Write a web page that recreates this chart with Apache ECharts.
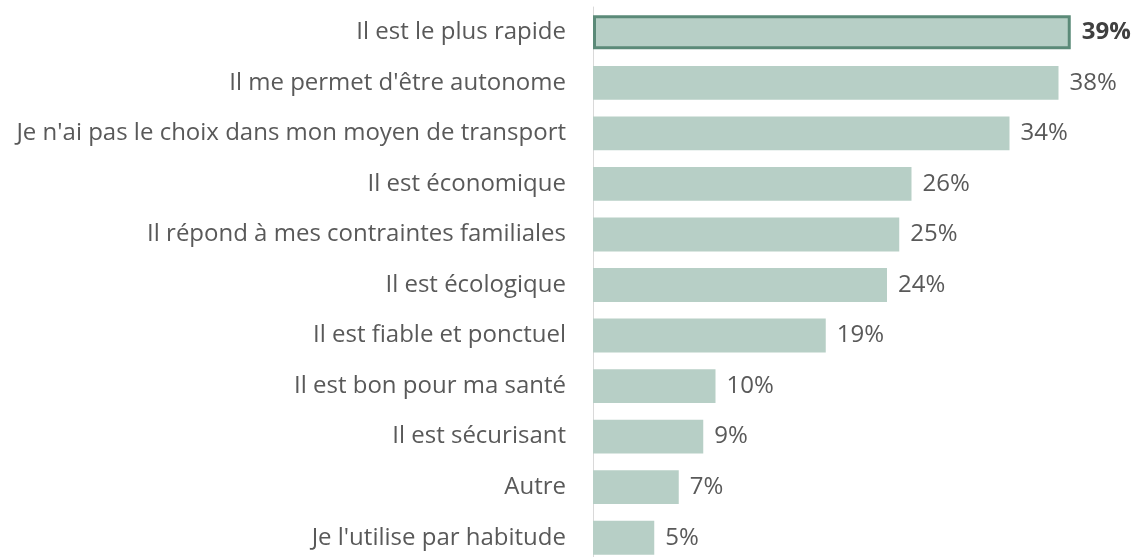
<!DOCTYPE html>
<html><head><meta charset="utf-8">
<script src="https://cdn.jsdelivr.net/npm/echarts@6/dist/echarts.min.js"></script>
<style>html,body{margin:0;padding:0;background:#fff}#c{width:1136px;height:557px}</style>
</head><body><div id="c"></div>
<script>
var categories = ["Il est le plus rapide","Il me permet d'être autonome","Je n'ai pas le choix dans mon moyen de transport","Il est économique","Il répond à mes contraintes familiales","Il est écologique","Il est fiable et ponctuel","Il est bon pour ma santé","Il est sécurisant","Autre","Je l'utilise par habitude"];
var values = [39,38,34,26,25,24,19,10,9,7,5];
var highlightIndex = 0;

var chart = echarts.init(document.getElementById('c'));
var data = values.map(function(v,i){
  if(i===highlightIndex){
    return {value:v,itemStyle:{borderColor:'#5b8a78',borderWidth:3},
      label:{fontWeight:'bold',color:'#404040'}};
  }
  return v;
});
chart.setOption({
  animation:false,
  textStyle:{fontFamily:'Open Sans'},
  grid:{left:593,width:539,top:7,height:556,containLabel:false,outerBoundsMode:'none'},
  xAxis:{type:'value',min:0,max:44,show:false},
  yAxis:{type:'category',data:categories,inverse:true,
    axisLine:{show:true,lineStyle:{color:'#d9d9d9',width:1}},
    axisTick:{show:false},
    axisLabel:{fontSize:24,color:'#595959',margin:27,fontFamily:'Open Sans'}},
  series:[{type:'bar',data:data,barCategoryGap:'33%',
    itemStyle:{color:'#b7cfc6'},
    label:{show:true,position:'right',distance:11,fontSize:24,color:'#595959',fontFamily:'Open Sans',
      formatter:function(p){return p.value+'%';}}}]
});
</script></body></html>
